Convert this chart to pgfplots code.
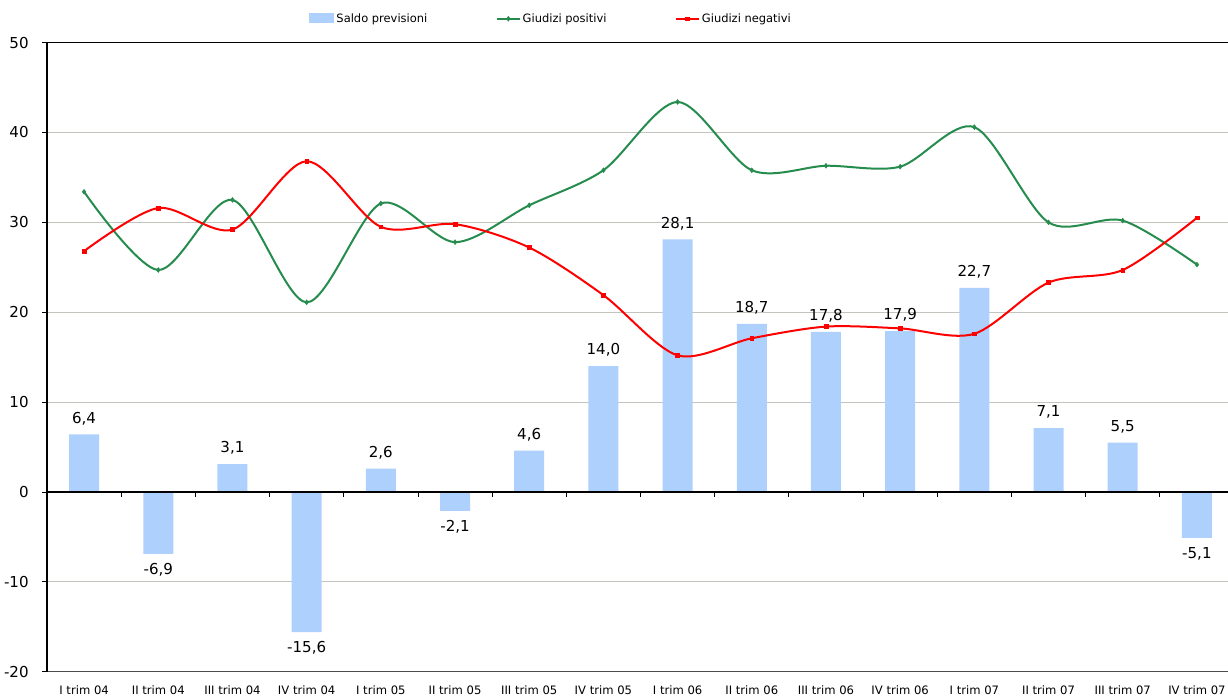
\documentclass[border=0pt]{standalone}
\usepackage{pgfplots}
\pgfplotsset{compat=1.18}
\usepackage{fontspec}
\setmainfont{DejaVu Sans}
\definecolor{gridc}{RGB}{196,196,190}
\definecolor{gpos}{RGB}{38,140,78}
\definecolor{gneg}{RGB}{255,0,0}
\definecolor{barc}{RGB}{174,208,252}
\begin{document}
\begin{tikzpicture}
\begin{axis}[name=ax, scale only axis, width=890.25pt, height=471.75pt,
  xmin=-0.5, xmax=15.5, ymin=-20, ymax=50,
  axis x line*=bottom, axis y line*=left,
  x axis line style={draw=black!70, line width=0.8pt, -},
  y axis line style={draw=black, line width=0.8pt, -},
  xtick={0,...,15},
  xticklabels={I trim 04, II trim 04, III trim 04, IV trim 04, I trim 05, II trim 05, III trim 05, IV trim 05, I trim 06, II trim 06, III trim 06, IV trim 06, I trim 07, II trim 07, III trim 07, IV trim 07},
  x tick style={draw=none},
  xticklabel style={font=\fontsize{8.7}{10}\selectfont, yshift=-3pt},
  ytick={-20,-10,...,50},
  yticklabel style={font=\fontsize{11.3}{13}\selectfont, xshift=-6.5pt},
  y tick style={draw=black, line width=0.6pt},
  tick align=outside, major tick length=3.75pt,
  ymajorgrids, grid style={gridc, line width=0.8pt},
  /pgf/number format/assume math mode=true,
  legend columns=3,
  legend style={draw=none, fill=none, at={(0.4246,1.038)}, anchor=center,
    font=\fontsize{8.6}{10}\selectfont,
    /tikz/every even column/.append style={column sep=50pt},
    nodes={inner xsep=1.5pt}},
]
\addplot[ybar, bar width=22.5pt, draw=none, fill=barc,
  nodes near coords={\pgfmathprintnumber[fixed,fixed zerofill,precision=1,use comma,assume math mode=true]{\pgfplotspointmeta}},
  every node near coord/.append style={font=\fontsize{11.3}{13}\selectfont, black, inner ysep=7pt},
  legend image code/.code={\fill[barc] (0pt,-3.5pt) rectangle (19pt,4pt);}]
coordinates {(0,6.4)(1,-6.9)(2,3.1)(3,-15.6)(4,2.6)(5,-2.1)(6,4.6)(7,14.0)(8,28.1)(9,18.7)(10,17.8)(11,17.9)(12,22.7)(13,7.1)(14,5.5)(15,-5.1)};
\addlegendentry{Saldo previsioni}
\addplot[gpos, line width=1.5pt, smooth, mark=diamond*, mark size=1.8pt, mark options={line width=0.4pt}]
coordinates {(0,33.4)(1,24.7)(2,32.5)(3,21.1)(4,32.1)(5,27.8)(6,31.9)(7,35.8)(8,43.4)(9,35.8)(10,36.3)(11,36.2)(12,40.6)(13,30.0)(14,30.2)(15,25.3)};
\addlegendentry{Giudizi positivi}
\addplot[gneg, line width=1.5pt, smooth, mark=square*, mark size=1.4pt, mark options={line width=0.4pt}]
coordinates {(0,26.8)(1,31.6)(2,29.2)(3,36.8)(4,29.5)(5,29.8)(6,27.2)(7,21.9)(8,15.2)(9,17.1)(10,18.4)(11,18.2)(12,17.6)(13,23.3)(14,24.7)(15,30.5)};
\addlegendentry{Giudizi negativi}
\draw[black, line width=0.8pt] (rel axis cs:0,1) -- (rel axis cs:1,1);
\end{axis}
\begin{axis}[scale only axis, width=890.25pt, height=471.75pt,
  xmin=-0.5, xmax=15.5, ymin=-20, ymax=50,
  axis x line=middle, axis y line=none,
  axis line style={-, draw=black, line width=0.9pt},
  xtick={0.5,1.5,...,14.5}, xticklabels={}, ytick=\empty,
  tick align=outside, major tick length=3.75pt,
  x tick style={draw=black, line width=0.6pt}]
\end{axis}
\pgfresetboundingbox
\path ([xshift=-35.25pt,yshift=-18.2pt]ax.south west) rectangle ([xshift=-4.5pt,yshift=32pt]ax.north east);
\end{tikzpicture}
\end{document}
